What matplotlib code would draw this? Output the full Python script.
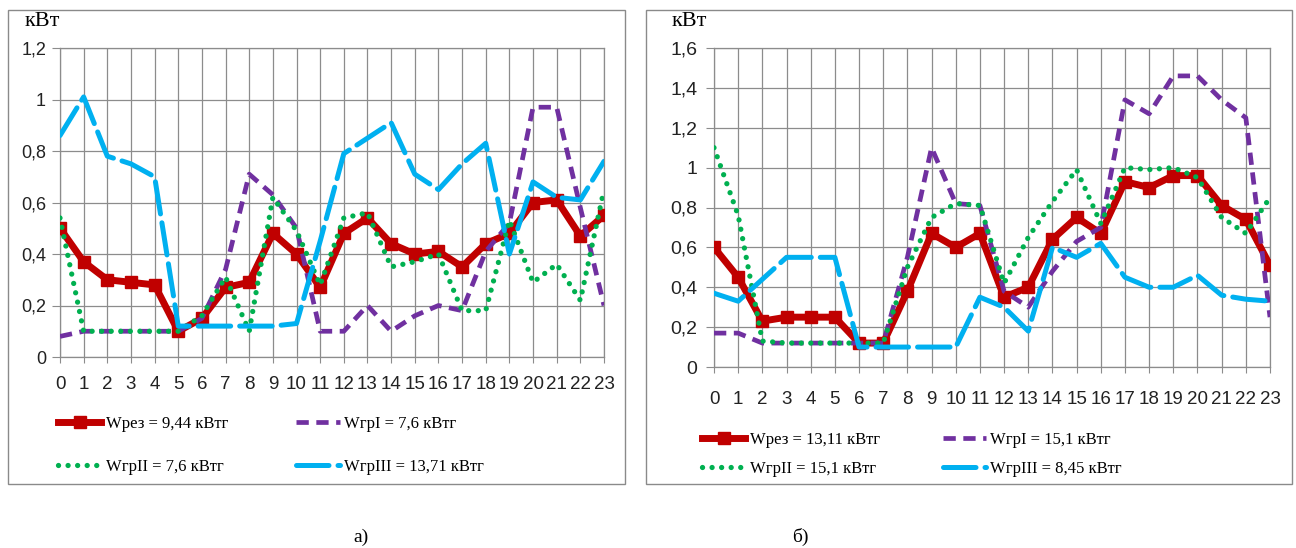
import matplotlib
matplotlib.use("Agg")
import matplotlib.pyplot as plt
from matplotlib.patches import Rectangle
from matplotlib.ticker import FuncFormatter

hours = list(range(24))

# Chart a)
a_rez = [0.50, 0.37, 0.30, 0.29, 0.28, 0.10, 0.15, 0.27, 0.29, 0.48, 0.40, 0.27,
         0.48, 0.54, 0.44, 0.40, 0.41, 0.35, 0.44, 0.48, 0.60, 0.61, 0.47, 0.55]
a_gr1 = [0.08, 0.10, 0.10, 0.10, 0.10, 0.10, 0.15, 0.34, 0.71, 0.63, 0.50, 0.10,
         0.10, 0.20, 0.10, 0.16, 0.20, 0.18, 0.41, 0.52, 0.97, 0.97, 0.58, 0.20]
a_gr2 = [0.54, 0.10, 0.10, 0.10, 0.10, 0.10, 0.16, 0.31, 0.10, 0.62, 0.49, 0.28,
         0.54, 0.56, 0.35, 0.37, 0.40, 0.18, 0.18, 0.53, 0.29, 0.36, 0.22, 0.65]
a_gr3 = [0.86, 1.01, 0.78, 0.75, 0.70, 0.12, 0.12, 0.12, 0.12, 0.12, 0.13, 0.45,
         0.79, 0.85, 0.91, 0.71, 0.65, 0.75, 0.83, 0.40, 0.68, 0.62, 0.61, 0.76]
a_labels = ["Wрез = 9,44 кВтг", "WгрI = 7,6 кВтг", "WгрII = 7,6 кВтг", "WгрIII = 13,71 кВтг"]

# Chart б)
b_rez = [0.60, 0.45, 0.23, 0.25, 0.25, 0.25, 0.12, 0.12, 0.38, 0.67, 0.60, 0.67,
         0.35, 0.40, 0.64, 0.75, 0.67, 0.93, 0.90, 0.96, 0.96, 0.81, 0.74, 0.51]
b_gr1 = [0.17, 0.17, 0.12, 0.12, 0.12, 0.12, 0.12, 0.12, 0.55, 1.10, 0.82, 0.81,
         0.38, 0.30, 0.48, 0.63, 0.70, 1.34, 1.27, 1.46, 1.46, 1.34, 1.25, 0.25]
b_gr2 = [1.10, 0.76, 0.13, 0.12, 0.12, 0.12, 0.12, 0.12, 0.50, 0.75, 0.82, 0.81,
         0.42, 0.65, 0.83, 0.99, 0.72, 1.00, 0.99, 1.00, 0.95, 0.75, 0.67, 0.85]
b_gr3 = [0.37, 0.33, 0.44, 0.55, 0.55, 0.55, 0.10, 0.10, 0.10, 0.10, 0.10, 0.35,
         0.30, 0.18, 0.60, 0.55, 0.62, 0.45, 0.40, 0.40, 0.46, 0.36, 0.34, 0.33]
b_labels = ["Wрез = 13,11 кВтг", "WгрI = 15,1 кВтг", "WгрII = 15,1 кВтг", "WгрIII = 8,45 кВтг"]

RED, PURPLE, GREEN, BLUE = "#C00000", "#7030A0", "#00B050", "#00B0F0"
GRID = "#8c8c8c"
TICKFONT = ["Liberation Sans", "DejaVu Sans"]
SERIF = ["Liberation Serif", "DejaVu Serif"]

W, H = 1296, 548
fig = plt.figure(figsize=(W / 100, H / 100), dpi=100)


def fx(px):
    return px / W


def fy(py):
    return 1 - py / H


def comma(v, pos):
    return f"{v:g}".replace(".", ",")


def draw(rect, rez, g1, g2, g3, labels, ymax, frame, ykfont, xkfont, kvt_xy,
         leg_anchor, colsp, labsp, xpad, ypad):
    fig.add_artist(Rectangle((fx(frame[0]), fy(frame[3])), fx(frame[2] - frame[0]),
                             (frame[3] - frame[1]) / H, transform=fig.transFigure,
                             fill=False, edgecolor="#8a8a8a", lw=1.0))
    ax = fig.add_axes([fx(rect[0]), fy(rect[3]), fx(rect[2] - rect[0]), (rect[3] - rect[1]) / H])
    ax.plot(hours, rez, color=RED, lw=5, marker="s", ms=9, solid_joinstyle="miter",
            label=labels[0], zorder=3)
    ax.plot(hours, g1, color=PURPLE, lw=3.4, linestyle=(0, (2.6, 1.6)),
            label=labels[1], zorder=4)
    ax.plot(hours, g2, color=GREEN, lw=3.8, linestyle=(0, (0.01, 1.8)),
            dash_capstyle="round", label=labels[2], zorder=5)
    ax.plot(hours, g3, color=BLUE, lw=3.6, linestyle=(0, (6.5, 1.8)),
            dash_capstyle="round", label=labels[3], zorder=6)
    ax.set_xlim(0, 23)
    ax.set_ylim(0, ymax)
    ax.set_xticks(hours)
    ax.set_yticks([round(0.2 * i, 1) for i in range(int(round(ymax / 0.2)) + 1)])
    ax.yaxis.set_major_formatter(FuncFormatter(comma))
    ax.grid(True, color=GRID, lw=0.9)
    ax.set_axisbelow(True)
    for s in ax.spines.values():
        s.set_color(GRID)
        s.set_linewidth(0.9)
    ax.tick_params(axis="x", length=4, color=GRID, pad=xpad, labelsize=xkfont)
    ax.tick_params(axis="y", length=6, color=GRID, pad=ypad, labelsize=ykfont)
    for t in ax.get_xticklabels() + ax.get_yticklabels():
        t.set_family(TICKFONT)
        t.set_color("#222222")
    fig.text(fx(kvt_xy[0]), fy(kvt_xy[1]), "кВт", family=SERIF, fontsize=16,
             va="center", ha="left")
    h, l = ax.get_legend_handles_labels()
    order = [0, 2, 1, 3]
    ax.legend([h[i] for i in order], [l[i] for i in order], ncol=2,
              loc="upper left", bbox_to_anchor=(fx(leg_anchor[0]), fy(leg_anchor[1])),
              bbox_transform=fig.transFigure, frameon=False,
              prop={"family": SERIF, "size": 12}, handlelength=2.6,
              handletextpad=0.25, columnspacing=colsp, labelspacing=labsp,
              borderaxespad=0, borderpad=0)
    return ax


draw((60, 48, 604, 357), a_rez, a_gr1, a_gr2, a_gr3, a_labels, 1.2,
     (8, 10, 625, 484), 13, 13.5, (25, 22), (58, 416), 4.1, 1.6, 9.5, 4)
draw((714, 48, 1270, 367), b_rez, b_gr1, b_gr2, b_gr3, b_labels, 1.6,
     (646, 10, 1292, 484), 14, 13.5, (672, 22), (702, 432), 3.8, 0.78, 13, 6)

fig.text(fx(361), fy(537), "а)", family=SERIF, fontsize=14, ha="center", va="center")
fig.text(fx(800), fy(537), "б)", family=SERIF, fontsize=14, ha="center", va="center")

fig.savefig("out.png", dpi=100)
